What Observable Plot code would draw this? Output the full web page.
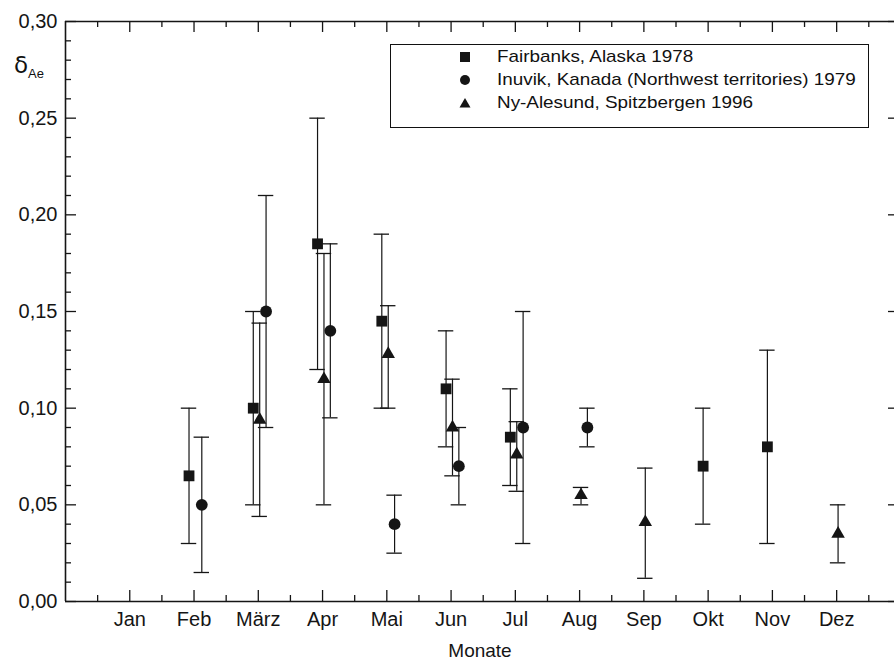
<!DOCTYPE html>
<html><head><meta charset="utf-8">
<script src="https://cdn.jsdelivr.net/npm/d3@7"></script>
<script src="https://cdn.jsdelivr.net/npm/@observablehq/plot@0.6"></script>
<style>
body{margin:0;background:#fff;overflow:hidden}
#wrap{position:relative;width:894px;height:663px;font-family:"Liberation Sans",Arial,Helvetica,sans-serif;color:#111}
#wrap > svg{position:absolute;left:0;top:0}
#legend{position:absolute;left:390px;top:44px;width:479px;height:84px;border:1.3px solid #111;background:#fff;box-sizing:border-box}
.lrow{position:absolute;left:0;height:22px;line-height:22px;font-size:17px;white-space:nowrap}
.lrow svg{position:absolute;left:68px;top:5px}
.lrow span{position:absolute;left:106px;top:0;transform:scaleX(1.11);transform-origin:0 50%}
#ylab{position:absolute;left:14px;top:50px;font-family:"DejaVu Sans",sans-serif;font-size:23px;line-height:30px;white-space:nowrap}
#ylab sub{font-family:"Liberation Sans",Arial,sans-serif;font-size:13px;vertical-align:-5px}
</style></head><body><div id="wrap"></div>
<script>
// ---- data ----
const months = ["Jan","Feb","März","Apr","Mai","Jun","Jul","Aug","Sep","Okt","Nov","Dez"];
const yTicks = [0, 0.05, 0.10, 0.15, 0.20, 0.25, 0.30];
const yTickLabels = ["0,00","0,05","0,10","0,15","0,20","0,25","0,30"];
const seriesNames = ["Fairbanks, Alaska 1978","Inuvik, Kanada (Northwest territories) 1979","Ny-Alesund, Spitzbergen 1996"];

const fairbanksMonths = ["Feb","März","Apr","Mai","Jun","Jul","Okt","Nov"];
const fairbanksValue  = [0.065,0.100,0.185,0.145,0.110,0.085,0.070,0.080];
const fairbanksLow    = [0.030,0.050,0.120,0.100,0.080,0.060,0.040,0.030];
const fairbanksHigh   = [0.100,0.150,0.250,0.190,0.140,0.110,0.100,0.130];

const inuvikMonths = ["Feb","März","Apr","Mai","Jun","Jul","Aug"];
const inuvikValue  = [0.050,0.150,0.140,0.040,0.070,0.090,0.090];
const inuvikLow    = [0.015,0.090,0.095,0.025,0.050,0.030,0.080];
const inuvikHigh   = [0.085,0.210,0.185,0.055,0.090,0.150,0.100];

const nyMonths = ["März","Apr","Mai","Jun","Jul","Aug","Sep","Dez"];
const nyValue  = [0.094,0.115,0.128,0.090,0.076,0.055,0.041,0.035];
const nyLow    = [0.044,0.050,0.100,0.065,0.057,0.050,0.012,0.020];
const nyHigh   = [0.144,0.180,0.153,0.115,0.093,0.059,0.069,0.050];

// ---- build table ----
const offsets = [-0.078, 0.121, 0.022];
function rows(si, ms, v, lo, hi) {
  return ms.map((m, i) => ({series: seriesNames[si], x: months.indexOf(m) + 1 + offsets[si], v: v[i], lo: lo[i], hi: hi[i]}));
}
const fb = rows(0, fairbanksMonths, fairbanksValue, fairbanksLow, fairbanksHigh);
const inu = rows(1, inuvikMonths, inuvikValue, inuvikLow, inuvikHigh);
const ny = rows(2, nyMonths, nyValue, nyLow, nyHigh);
const all = [...fb, ...inu, ...ny];

const monthIdx = months.map((m, i) => i + 1);
const halfMonths = [0, ...monthIdx].map(i => i + 0.5);
const yMinor = d3.range(0, 31).map(i => i / 100).filter(v => Math.round(v * 100) % 5 !== 0);
const cap = 0.12;
const ink = "#151515";

const W = 894, H = 663, mL = 65, mR = 0, mT = 21, mB = 62;
const fw = W - mL - mR, fh = H - mT - mB;
const tickStyle = {stroke: ink, strokeWidth: 1.3};

const chart = Plot.plot({
  width: W, height: H,
  marginLeft: mL, marginRight: mR, marginTop: mT, marginBottom: mB,
  style: {fontFamily: "'Liberation Sans', Arial, Helvetica, sans-serif", fontSize: "20px", background: "transparent", color: ink, overflow: "visible"},
  x: {domain: [0, 12.9], label: null},
  y: {domain: [0, 0.30], label: null},
  marks: [
    // frame
    Plot.ruleY([0, 0.30], {stroke: ink, strokeWidth: 1.6}),
    Plot.ruleX([0], {y1: 0, y2: 0.30, stroke: ink, strokeWidth: 1.6}),
    // inward ticks: bottom / top
    Plot.tickX(monthIdx, {x: d => d, insetTop: fh - 11, ...tickStyle}),
    Plot.tickX(halfMonths, {x: d => d, insetTop: fh - 6, ...tickStyle}),
    Plot.tickX(monthIdx, {x: d => d, insetBottom: fh - 11, ...tickStyle}),
    Plot.tickX(halfMonths, {x: d => d, insetBottom: fh - 6, ...tickStyle}),
    // inward ticks: left / right
    Plot.tickY(yTicks, {y: d => d, insetRight: fw - 11, ...tickStyle}),
    Plot.tickY(yMinor, {y: d => d, insetRight: fw - 6, ...tickStyle}),
    Plot.tickY(yTicks, {y: d => d, insetLeft: fw - 6, ...tickStyle}),
    // tick labels
    Plot.axisX({anchor: "bottom", ticks: monthIdx, tickSize: 0, tickPadding: 10, tickFormat: i => months[i - 1], fontSize: 20, fill: ink}),
    Plot.axisY({anchor: "left", ticks: yTicks, tickSize: 0, tickPadding: 8, tickFormat: v => yTickLabels[yTicks.indexOf(v)], fontSize: 20, fill: ink}),
    // axis title
    Plot.text(["Monate"], {frameAnchor: "bottom", dy: 42, lineAnchor: "top", fontSize: 19, fill: ink}),
    // error bars
    Plot.ruleX(all, {x: "x", y1: "lo", y2: "hi", stroke: ink, strokeWidth: 1.2}),
    Plot.ruleY(all, {y: "lo", x1: d => d.x - cap, x2: d => d.x + cap, stroke: ink, strokeWidth: 1.3}),
    Plot.ruleY(all, {y: "hi", x1: d => d.x - cap, x2: d => d.x + cap, stroke: ink, strokeWidth: 1.3}),
    // markers
    Plot.dot(fb, {x: "x", y: "v", symbol: "square", r: 6.1, fill: ink, stroke: "none"}),
    Plot.dot(inu, {x: "x", y: "v", symbol: "circle", r: 5.9, fill: ink, stroke: "none"}),
    Plot.dot(ny, {x: "x", y: "v", symbol: "triangle", r: 5.0, fill: ink, stroke: "none"})
  ]
});
const wrap = document.getElementById("wrap");
wrap.appendChild(chart);

// y-axis label
const yl = document.createElement("div");
yl.id = "ylab";
yl.innerHTML = "δ<sub>Ae</sub>";
wrap.appendChild(yl);

// legend
const leg = document.createElement("div");
leg.id = "legend";
const symbols = [
  '<rect x="1" y="1" width="10" height="10" fill="' + ink + '"/>',
  '<circle cx="6" cy="6" r="5" fill="' + ink + '"/>',
  '<path d="M6,1 L11.5,10.5 L0.5,10.5 Z" fill="' + ink + '"/>'
];
const rowTops = [1, 24, 47];
seriesNames.forEach((name, i) => {
  const r = document.createElement("div");
  r.className = "lrow";
  r.style.top = rowTops[i] + "px";
  r.innerHTML = '<svg width="12" height="12" viewBox="0 0 12 12">' + symbols[i] + '</svg><span>' + name + '</span>';
  leg.appendChild(r);
});
wrap.appendChild(leg);
</script>
</body></html>
